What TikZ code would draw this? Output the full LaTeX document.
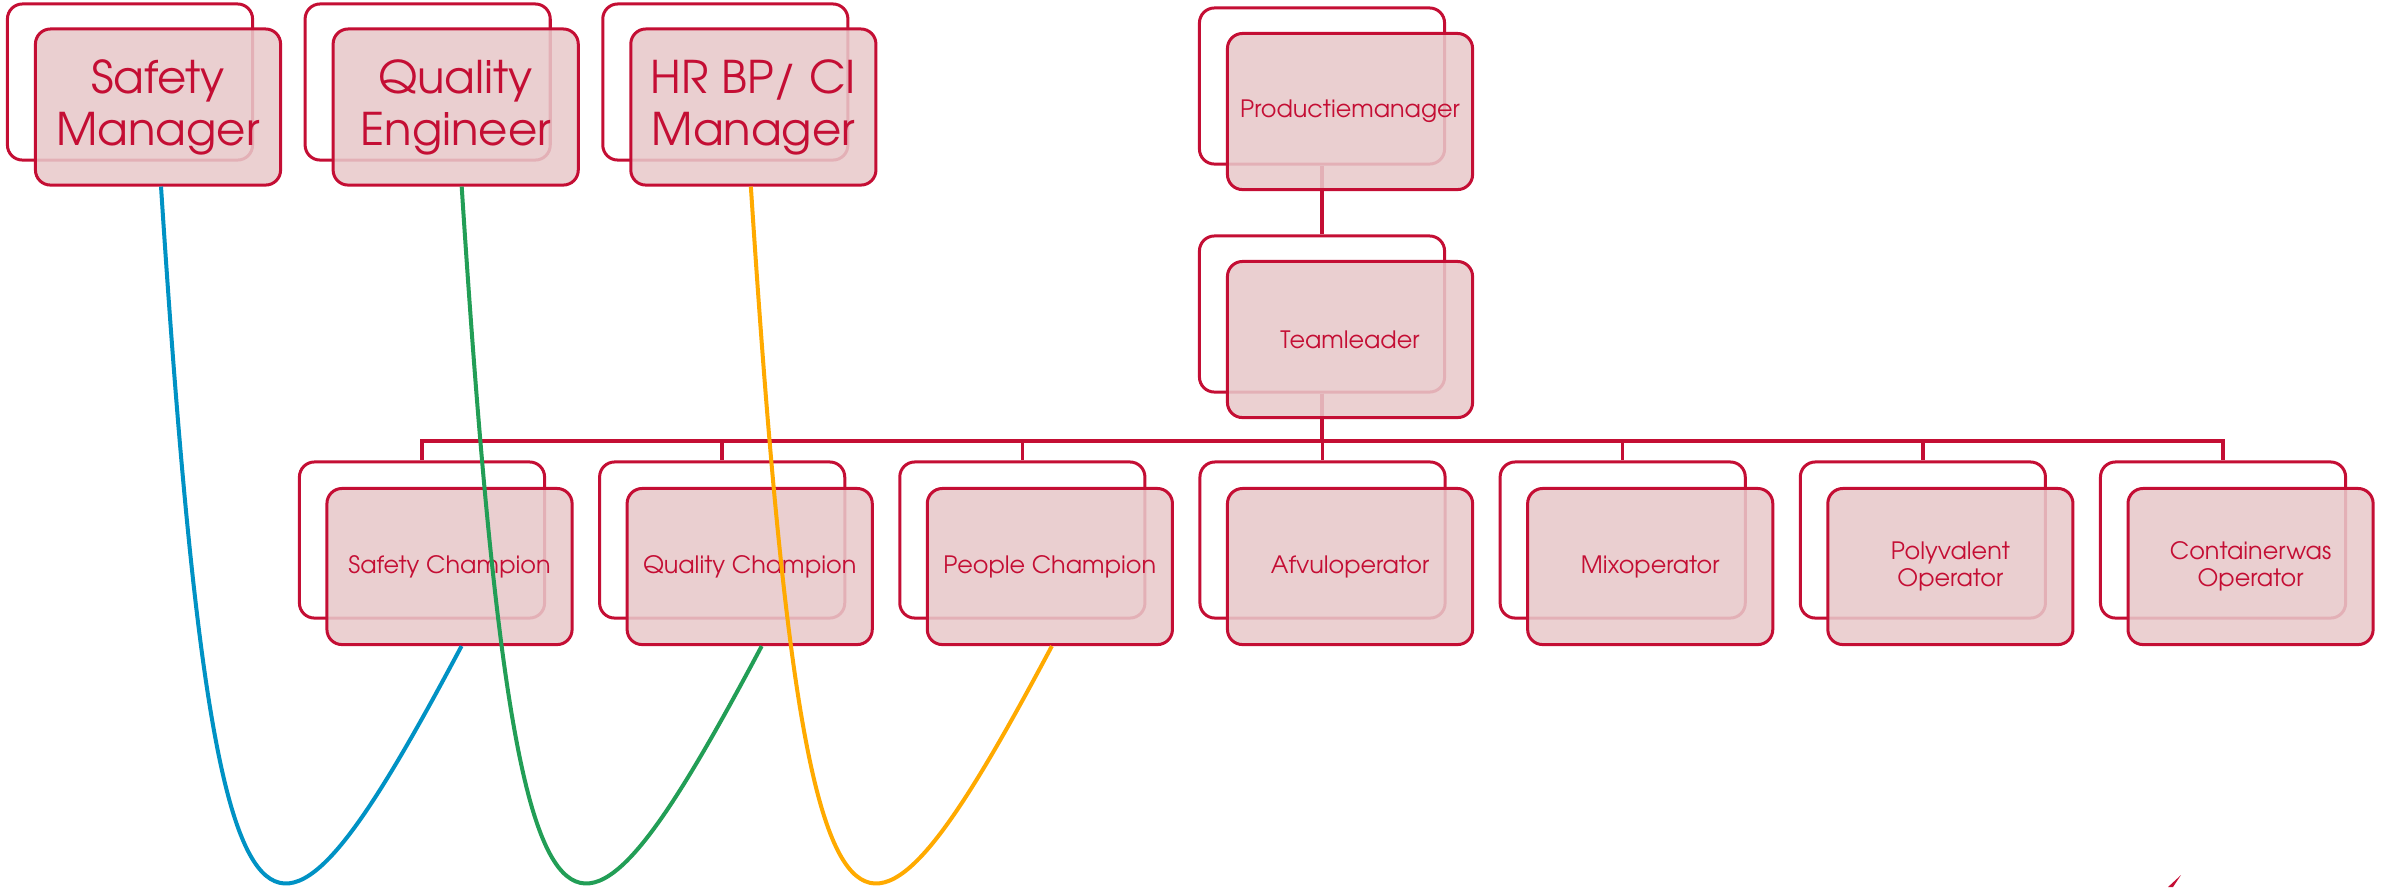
\documentclass[tikz,border=0pt]{standalone}
\usepackage{fontspec}
\usepackage{tikz}
\usetikzlibrary{positioning}
\newfontfamily\boxfont{texgyreadventor-regular.otf}
\definecolor{boxred}{RGB}{196,14,52}
\definecolor{boxfill}{RGB}{232,201,202}
\definecolor{safetyblue}{RGB}{0,146,196}
\definecolor{qualitygreen}{RGB}{34,158,86}
\definecolor{peopleorange}{RGB}{255,170,0}
\newcommand{\smalltxt}{\boxfont\fontsize{6.8}{7.7}\selectfont}
\newcommand{\bigtxt}{\boxfont\fontsize{12.8}{14.8}\selectfont}

\begin{document}
\begin{tikzpicture}[x=0.01cm, y=-0.01cm, node distance={3cm}, on grid,
  back/.style={rounded corners=0.15cm, draw=boxred, fill=white, line width=0.03cm, minimum width=2.45cm, minimum height=1.56cm},
  front/.style={back, fill=boxfill, fill opacity=0.87, text opacity=1, text=boxred, align=center, font=\smalltxt},
  link/.style={draw=boxred, line width=0.035cm},
  arc/.style={line width=0.04cm}]
  \useasboundingbox (0,0) rectangle (2384,887);

  % back boxes
  \node[back] (smb) at (130,82) {};
  \node[back] (qeb) [right=2.975cm of smb] {};
  \node[back] (hrb) [right=2.975cm of qeb] {};
  \node[back] (pmb) at (1322,86) {};
  \node[back] (tlb) at (1322,314) {};
  \node[back] (scb) at (422,540) {};
  \node[back] (qcb) [right of=scb] {};
  \node[back] (pcb) [right of=qcb] {};
  \node[back] (afb) [right of=pcb] {};
  \node[back] (mxb) [right of=afb] {};
  \node[back] (pob) [right of=mxb] {};
  \node[back] (cwb) [right of=pob] {};

  % tree lines
  \coordinate (bus) at (1322,441);
  \draw[link] (pmb) -- (tlb);
  \foreach \c in {scb,qcb,pcb,afb,mxb,pob,cwb}
    \draw[link] (tlb.south) -- (tlb.south |- bus) -| (\c.north);

  % front boxes
  \node[front, font=\bigtxt] (sm) [below right=0.25cm and 0.28cm of smb] {Safety\\Manager};
  \node[front, font=\bigtxt] (qe) [below right=0.25cm and 0.28cm of qeb] {Quality\\Engineer};
  \node[front, font=\bigtxt] (hr) [below right=0.25cm and 0.28cm of hrb] {HR BP/ CI\\Manager};
  \node[front] (pm) [below right=0.255cm and 0.28cm of pmb] {Productiemanager};
  \node[front] (tl) [below right=0.255cm and 0.28cm of tlb] {Teamleader};
  \node[front] (sc) [below right=0.265cm and 0.275cm of scb] {Safety Champion};
  \node[front] (qc) [below right=0.265cm and 0.275cm of qcb] {Quality Champion};
  \node[front] (pc) [below right=0.265cm and 0.275cm of pcb] {People Champion};
  \node[front] (af) [below right=0.265cm and 0.275cm of afb] {Afvuloperator};
  \node[front] (mx) [below right=0.265cm and 0.275cm of mxb] {Mixoperator};
  \node[front] (po) [below right=0.265cm and 0.275cm of pob] {Polyvalent\\Operator};
  \node[front] (cw) [below right=0.265cm and 0.275cm of cwb] {Containerwas\\Operator};

  % champion links
  \draw[arc, safetyblue] ([xshift=0.03cm]sm.south) .. controls +(54,831) and +(-197,370) .. ([xshift=0.12cm]sc.south);
  \draw[arc, qualitygreen] ([xshift=0.06cm]qe.south) .. controls +(54,831) and +(-197,370) .. ([xshift=0.12cm]qc.south);
  \draw[arc, peopleorange] ([xshift=-0.025cm]hr.south) .. controls +(54,831) and +(-197,370) .. ([xshift=0.02cm]pc.south);

  \fill[boxred] (2168,887) -- (2181,875) -- (2173,887) -- cycle;
\end{tikzpicture}
\end{document}
